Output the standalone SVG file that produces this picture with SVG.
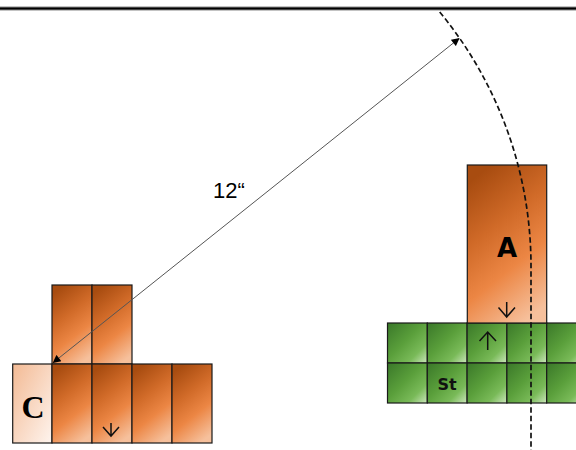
<svg xmlns="http://www.w3.org/2000/svg" width="576" height="450" viewBox="0 0 576 450">
<defs>
<linearGradient id="gOr" x1="0.3" y1="0" x2="0.7" y2="1">
<stop offset="0" stop-color="#A84C10"/>
<stop offset="0.35" stop-color="#D06A28"/>
<stop offset="0.65" stop-color="#EC8644"/>
<stop offset="1" stop-color="#F6C09C"/>
</linearGradient>
<linearGradient id="gC" x1="0" y1="0" x2="1" y2="1">
<stop offset="0" stop-color="#F3BA94"/>
<stop offset="1" stop-color="#FEF4EE"/>
</linearGradient>
<linearGradient id="gGr" x1="0" y1="0" x2="1" y2="1">
<stop offset="0" stop-color="#3A7829"/>
<stop offset="0.45" stop-color="#5A9F3B"/>
<stop offset="0.75" stop-color="#79BA58"/>
<stop offset="1" stop-color="#CDE8BE"/>
</linearGradient>
<marker id="ah" viewBox="0 0 10 10" refX="9" refY="5" markerWidth="9" markerHeight="8" markerUnits="userSpaceOnUse" orient="auto-start-reverse">
<path d="M0,0 L10,5 L0,10 z" fill="#000"/>
</marker>
<style>
.or{fill:url(#gOr);stroke:#1a1a1a;stroke-width:1.2}
.cc{fill:url(#gC);stroke:#1a1a1a;stroke-width:1.2}
.gr{fill:url(#gGr);stroke:#1a1a1a;stroke-width:1.2}
.arr{fill:none;stroke:#111;stroke-width:1.5}
</style>
</defs>
<rect width="576" height="450" fill="#fff"/>
<line x1="0" y1="8.5" x2="576" y2="8.5" stroke="#888" stroke-width="4"/>
<line x1="0" y1="8.5" x2="576" y2="8.5" stroke="#000" stroke-width="2"/>

<g id="nodeC-group">
<g id="upper-left">
<rect class="or" x="52" y="285" width="40" height="79"/>
<rect class="or" x="92" y="285" width="40" height="79"/>
</g>
<g id="lower-left">
<rect class="cc" x="12.7" y="364" width="39.3" height="79"/>
<rect class="or" x="52" y="364" width="40" height="79"/>
<rect class="or" x="92" y="364" width="40" height="79"/>
<rect class="or" x="132" y="364" width="40" height="79"/>
<rect class="or" x="172" y="364" width="40" height="79"/>
<text x="33" y="418" text-anchor="middle" font-family="Liberation Serif, serif" font-weight="bold" font-size="32" fill="#000">C</text>
<path class="arr" d="M111,423 V436 M103,427 L111,436 L119,427"/>
</g>
</g>

<g id="nodeSt-grid">
<rect class="gr" x="387.5" y="323" width="39.8" height="40"/>
<rect class="gr" x="427.3" y="323" width="39.8" height="40"/>
<rect class="gr" x="467.1" y="323" width="39.8" height="40"/>
<rect class="gr" x="506.9" y="323" width="39.8" height="40"/>
<rect class="gr" x="546.7" y="323" width="39.8" height="40"/>
<rect class="gr" x="387.5" y="363" width="39.8" height="40"/>
<rect class="gr" x="427.3" y="363" width="39.8" height="40"/>
<rect class="gr" x="467.1" y="363" width="39.8" height="40"/>
<rect class="gr" x="506.9" y="363" width="39.8" height="40"/>
<rect class="gr" x="546.7" y="363" width="39.8" height="40"/>
<text x="447" y="390" text-anchor="middle" font-family="DejaVu Sans, sans-serif" font-weight="bold" font-size="16" fill="#111">St</text>
<path class="arr" d="M487.7,350 V332 M479.5,341 L487.7,332 L496,341"/>
</g>

<g id="nodeA">
<rect class="or" x="467.3" y="165" width="79.4" height="158"/>
<text x="507" y="257" text-anchor="middle" font-family="DejaVu Sans, sans-serif" font-weight="bold" font-size="26" fill="#000">A</text>
<path class="arr" d="M506.7,302 V317 M498.5,307.5 L506.7,317 L515,307.5"/>
</g>

<g id="connectors">
<line x1="53.3" y1="362.5" x2="459" y2="38.5" stroke="#555" stroke-width="1" marker-start="url(#ah)" marker-end="url(#ah)"/>
<path d="M439.7,12 A399,399 0 0 1 531,266 L531,450" fill="none" stroke="#111" stroke-width="1.7" stroke-dasharray="5.5,3"/>
</g>
<text x="229" y="198" text-anchor="middle" font-family="Liberation Sans, Arial, sans-serif" font-size="22" fill="#000">12“</text>
</svg>
